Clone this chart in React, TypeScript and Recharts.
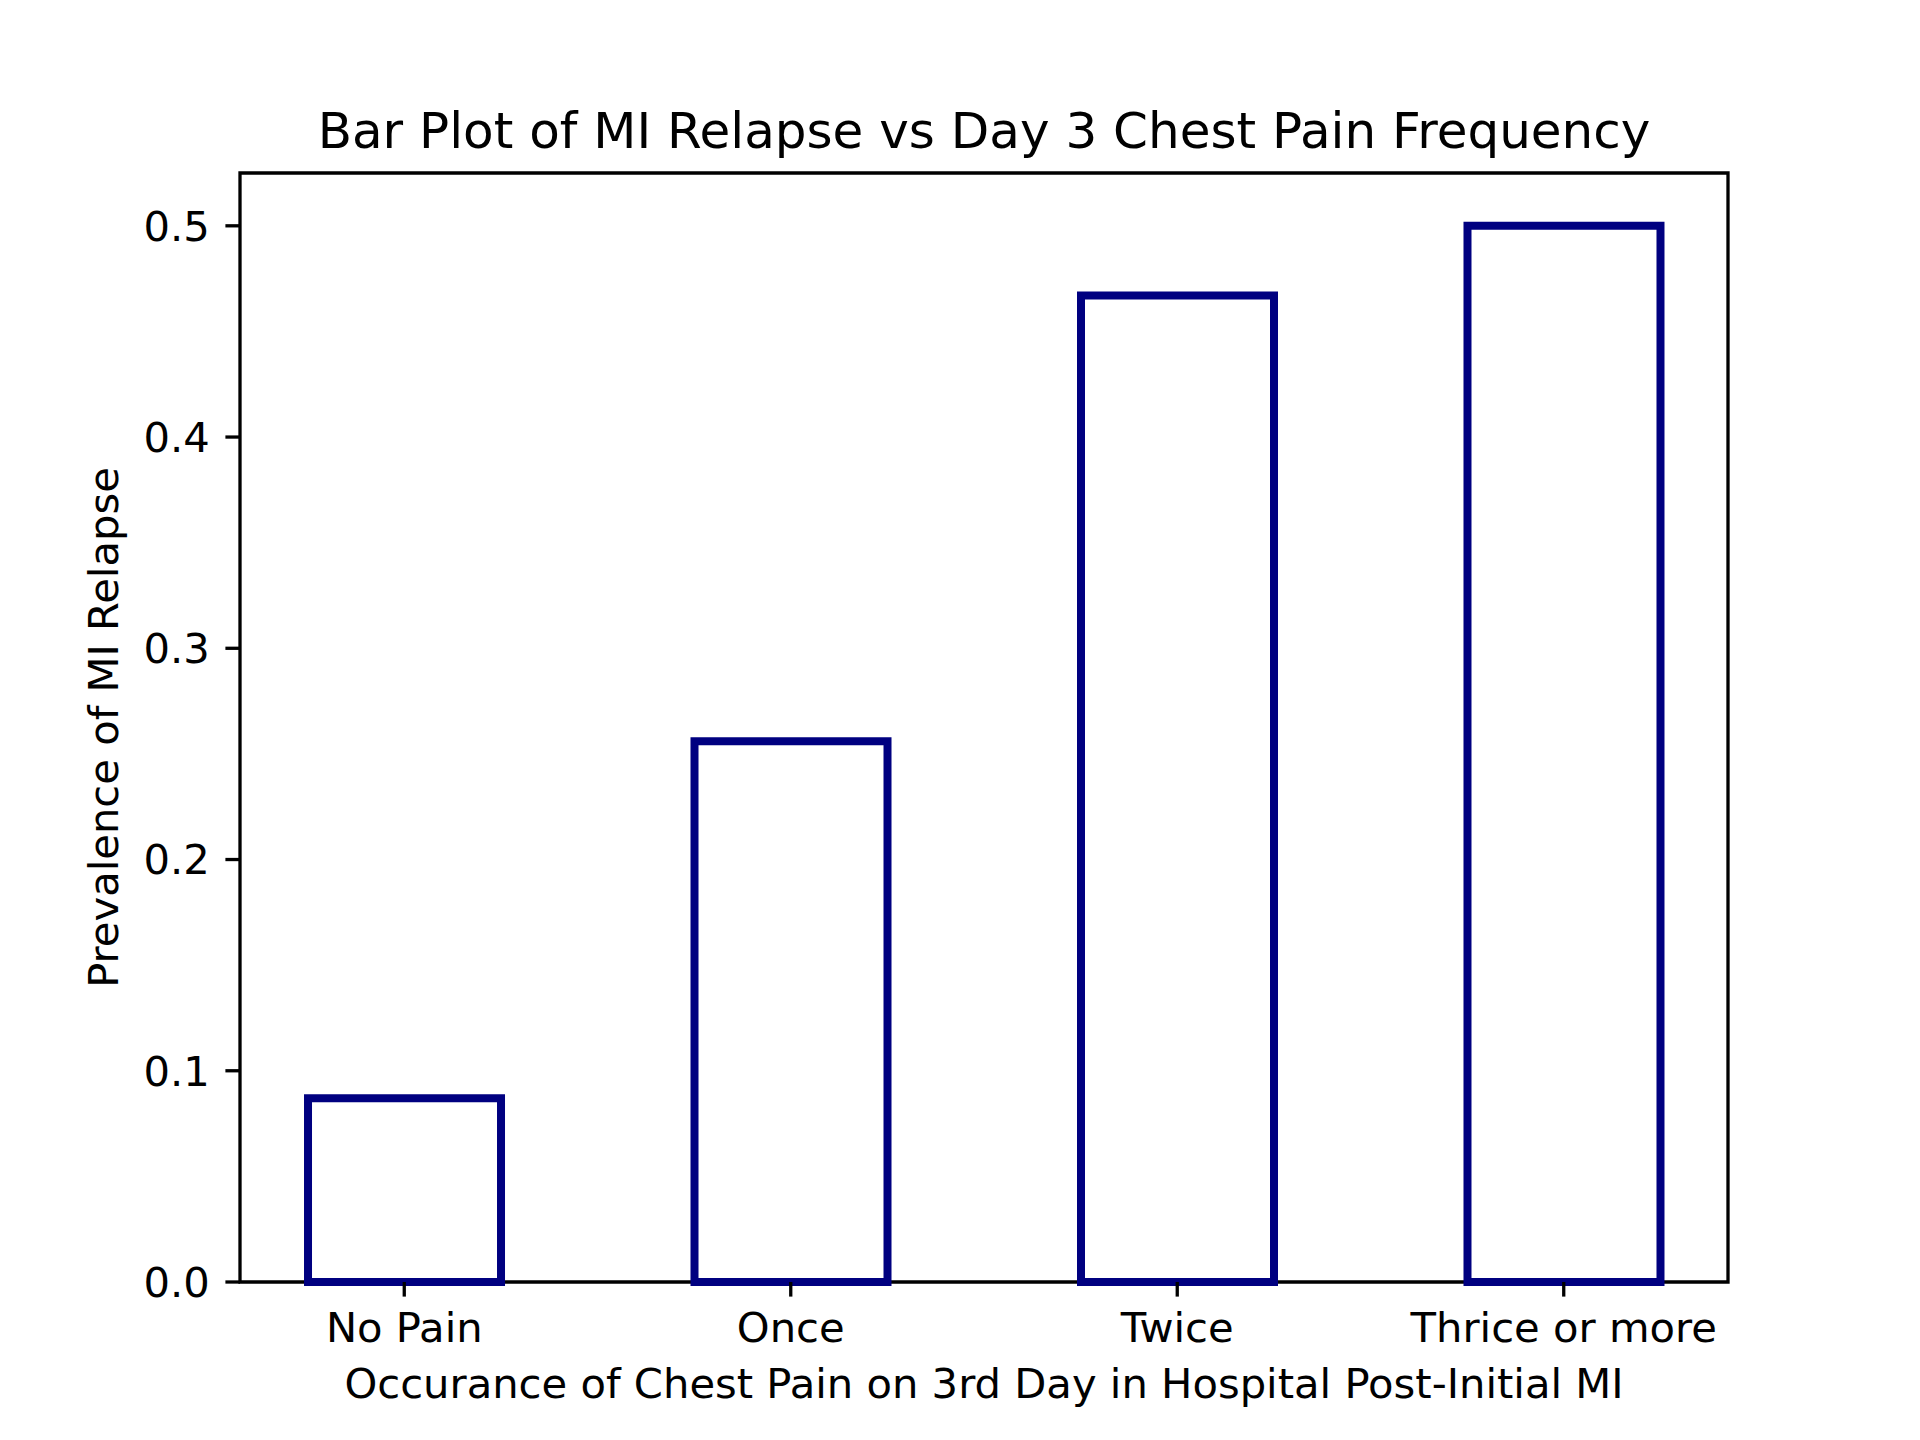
import { BarChart, Bar, XAxis, YAxis, ReferenceArea } from "recharts"

// values
const categories = ["No Pain", "Once", "Twice", "Thrice or more"]
const relapse = [0.087, 0.256, 0.467, 0.5]
const yTicks = [0, 0.1, 0.2, 0.3, 0.4, 0.5]

const data = categories.map((name, i) => ({ pos: i, name, value: relapse[i] }))

const font = "'DejaVu Sans', Verdana, sans-serif"
const navy = "#000080"

export default function App() {
  return (
    <div style={{ position: "absolute", left: 0, top: 0, width: 1920, height: 1440, background: "#fff" }}>
      <BarChart
        width={1920}
        height={1440}
        data={data}
        margin={{ top: 173, right: 192, bottom: 0, left: 0 }}
      >
        <XAxis
          dataKey="pos"
          type="number"
          domain={[-0.425, 3.425]}
          ticks={[0, 1, 2, 3]}
          tickFormatter={(v: number) => categories[v]}
          height={158}
          axisLine={false}
          tickLine={{ stroke: "#000", strokeWidth: 3.3 }}
          tickSize={14.6}
          tickMargin={16}
          interval={0}
          tick={{ fontSize: 41.7, fill: "#000", fontFamily: font }}
        />
        <YAxis
          type="number"
          domain={[0, 0.525]}
          ticks={yTicks}
          tickFormatter={(v: number) => v.toFixed(1)}
          width={240}
          axisLine={false}
          tickLine={{ stroke: "#000", strokeWidth: 3.3 }}
          tickSize={14.6}
          tickMargin={15.5}
          interval={0}
          tick={{ fontSize: 41.7, fill: "#000", fontFamily: font }}
        />
        <Bar
          dataKey="value"
          barSize={193}
          fill="none"
          stroke={navy}
          strokeWidth={8}
          isAnimationActive={false}
        />
        {/* axes frame */}
        <ReferenceArea
          x1={-0.425}
          x2={3.425}
          y1={0}
          y2={0.525}
          fill="none"
          fillOpacity={0}
          stroke="#000"
          strokeWidth={3.3}
          strokeOpacity={1}
          ifOverflow="visible"
        />
      </BarChart>
      <svg
        width={1920}
        height={1440}
        style={{ position: "absolute", left: 0, top: 0, pointerEvents: "none" }}
      >
        <text x={984} y={148.3} textAnchor="middle" fontSize={50} fontFamily={font} fill="#000">
          Bar Plot of MI Relapse vs Day 3 Chest Pain Frequency
        </text>
        <text x={984} y={1398.3} textAnchor="middle" fontSize={41.7} fontFamily={font} fill="#000">
          Occurance of Chest Pain on 3rd Day in Hospital Post-Initial MI
        </text>
        <text
          x={118}
          y={727.5}
          textAnchor="middle"
          fontSize={41.7}
          fontFamily={font}
          fill="#000"
          transform="rotate(-90 118 727.5)"
        >
          Prevalence of MI Relapse
        </text>
      </svg>
    </div>
  )
}
